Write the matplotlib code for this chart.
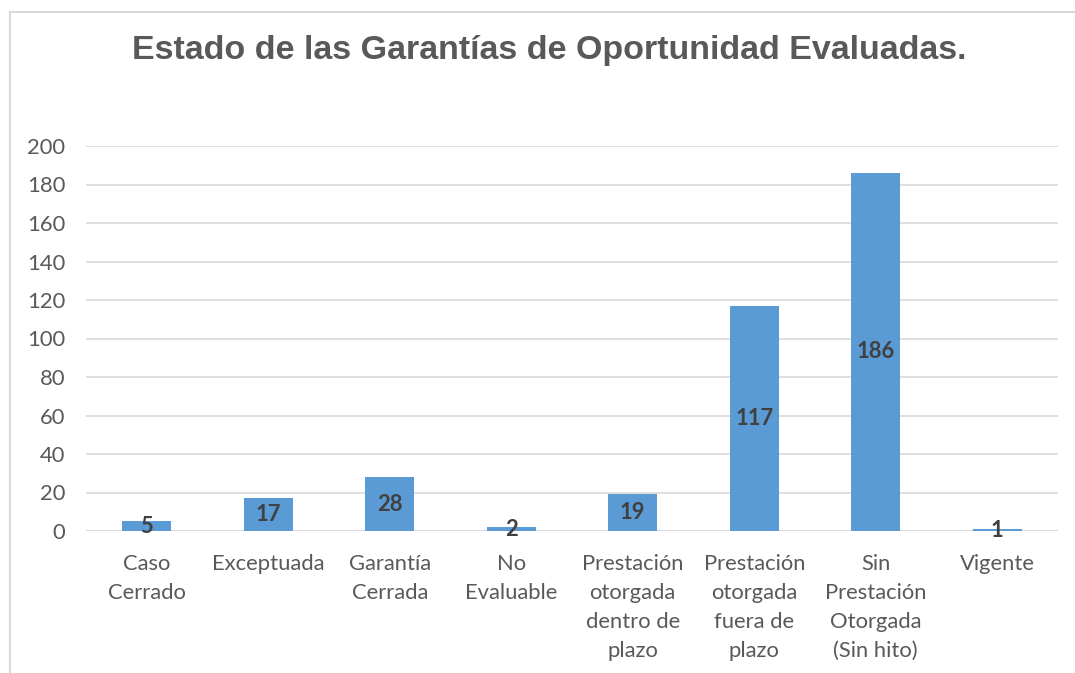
import matplotlib
matplotlib.use("Agg")
import matplotlib.pyplot as plt
from matplotlib.patches import Rectangle

categories = ["Caso\nCerrado", "Exceptuada", "Garantía\nCerrada", "No\nEvaluable",
              "Prestación\notorgada\ndentro de\nplazo", "Prestación\notorgada\nfuera de\nplazo",
              "Sin\nPrestación\nOtorgada\n(Sin hito)", "Vigente"]
values = [5, 17, 28, 2, 19, 117, 186, 1]
yticks = [0, 20, 40, 60, 80, 100, 120, 140, 160, 180, 200]
title = "Estado de las Garantías de Oportunidad Evaluadas."

W, H = 1075, 673
fig = plt.figure(figsize=(W / 100, H / 100), dpi=100)
fig.patch.set_facecolor("white")

# chart border (cropped at right/bottom)
fig.add_artist(Rectangle((10 / W, -0.1), 1.2, 1 - 12 / H + 0.1, transform=fig.transFigure,
                         fill=False, edgecolor="#D9D9D9", linewidth=1.5))

ax = fig.add_axes([86 / W, 1 - 531 / H, (1058 - 86) / W, (531 - 146) / H])
x = list(range(len(categories)))
ax.bar(x, values, width=0.4, color="#5B9BD5", zorder=3)
ax.set_xlim(-0.5, len(categories) - 0.5)
ax.set_ylim(0, 200)
ax.set_yticks(yticks)
ax.set_yticklabels([str(t) for t in yticks])
ax.set_xticks(x)
ax.set_xticklabels(categories, linespacing=1.56, va="top")
for s in ax.spines.values():
    s.set_visible(False)
ax.grid(axis="y", color="#D9D9D9", linewidth=1.2, zorder=0)
ax.tick_params(axis="both", length=0, labelsize=15.8, labelcolor="#595959", labelfontfamily="Lato")
ax.tick_params(axis="y", pad=15)
ax.tick_params(axis="x", pad=16.5)
ax.axhline(0, color="#D9D9D9", linewidth=1.2, zorder=2)

for xi, v in zip(x, values):
    ax.text(xi, v / 2, str(v), ha="center", va="center", fontsize=15.8, fontweight="bold",
            color="#404040", family="Lato", zorder=4)

fig.text(549 / W, 1 - 51 / H, title, ha="center", va="center", fontsize=24.5, fontweight="bold",
         color="#595959", family="Liberation Sans")

fig.savefig("out.png", dpi=100)
